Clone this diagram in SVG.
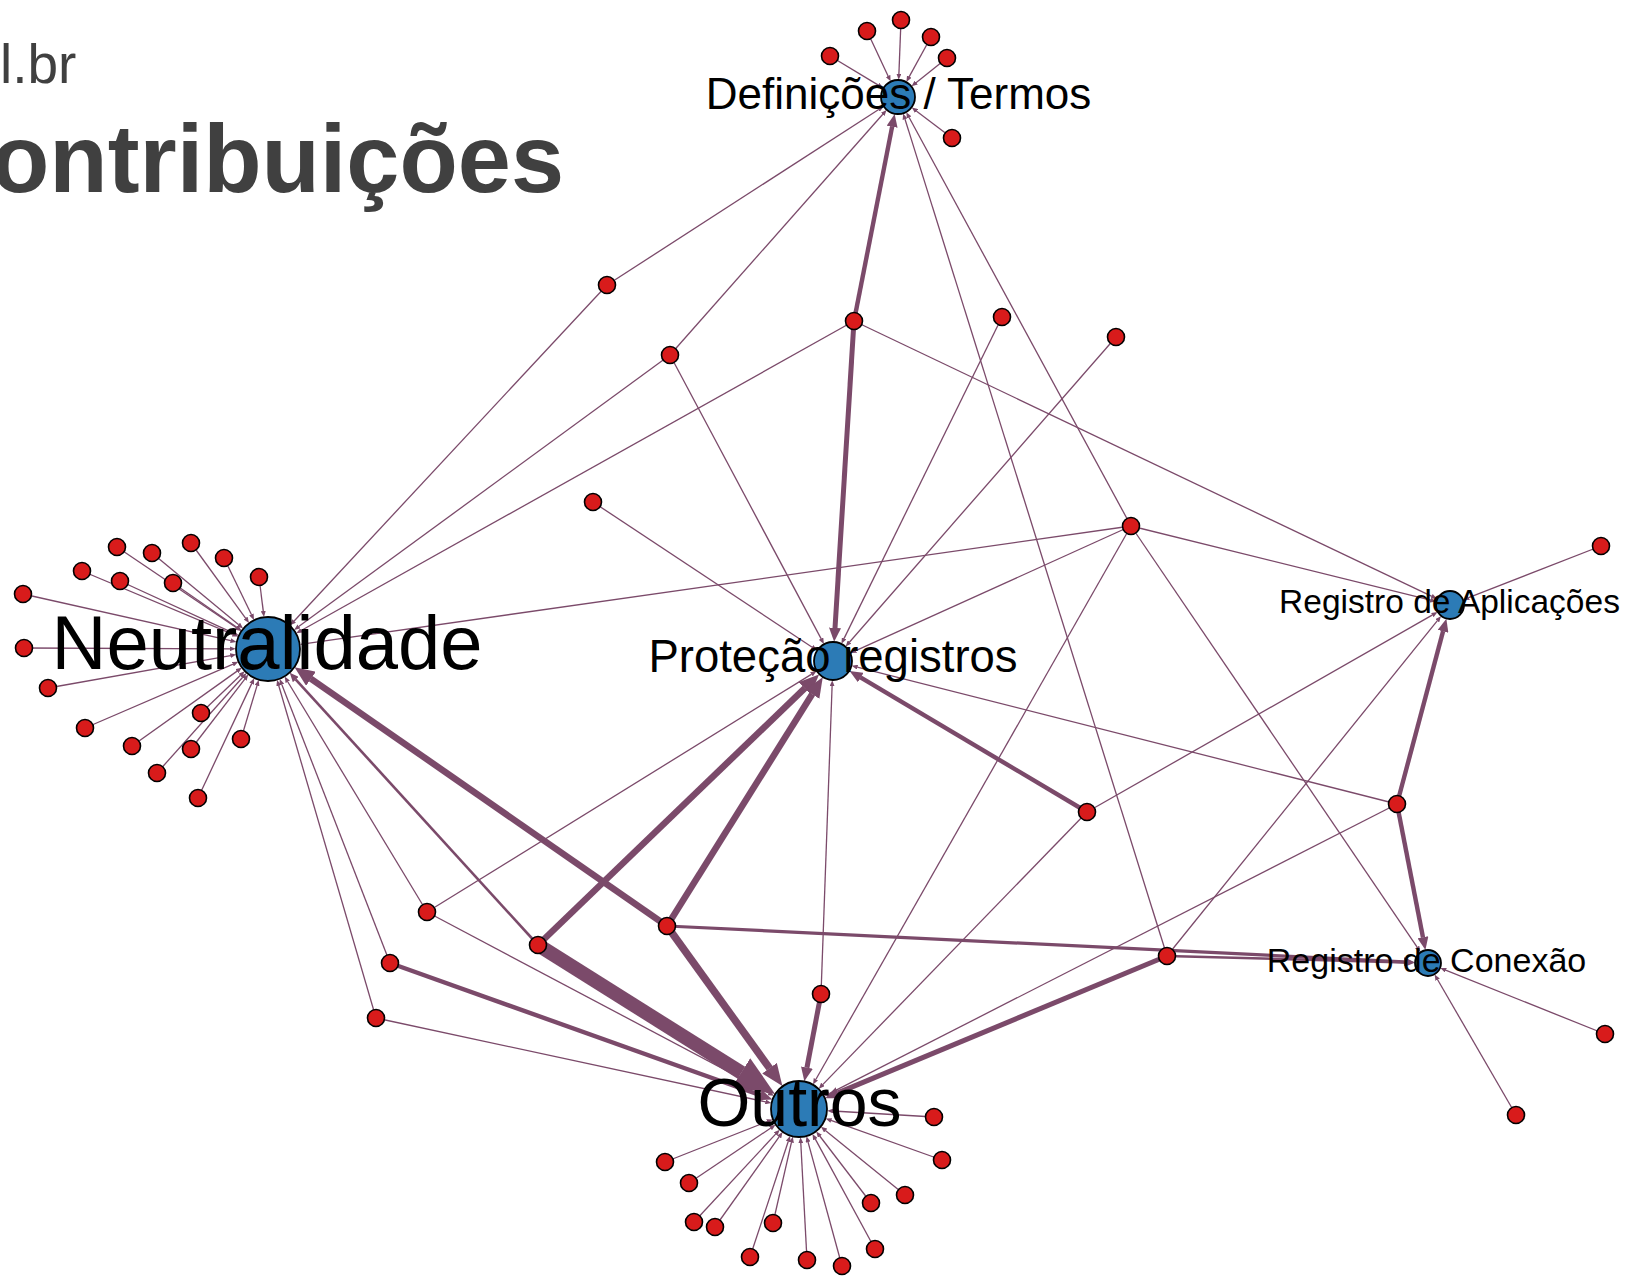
<svg xmlns="http://www.w3.org/2000/svg" width="1626" height="1276" viewBox="0 0 1626 1276">
<style>
.bg{fill:#ffffff}
.ttl{font-family:"Liberation Sans",Arial,sans-serif;fill:#404040}
.lbl{font-family:"Liberation Sans",Arial,sans-serif;fill:#000000;text-anchor:middle}
.rn{fill:#d81b1b;stroke:#000000;stroke-width:1.6}
.hb{fill:#2c7bb6;stroke:#000000;stroke-width:1.8}
#edges path{fill:none;stroke:#7b4a6a;stroke-linecap:butt}
.e1{stroke-width:1.3;marker-end:url(#m1)}
.e2{stroke-width:2.6;marker-end:url(#m2)}
.e3{stroke-width:3.2;marker-end:url(#m3)}
.e4{stroke-width:4.4;marker-end:url(#m4)}
.e5{stroke-width:5;marker-end:url(#m5)}
.e6{stroke-width:6.5;marker-end:url(#m6)}
.e7{stroke-width:7.5;marker-end:url(#m7)}
.e13{stroke-width:14;marker-end:url(#m13)}
.ah{fill:#7b4a6a}
</style>
<defs>
<marker id="m1" markerUnits="userSpaceOnUse" viewBox="0 0 6 5" markerWidth="6" markerHeight="5" refX="0.3" refY="2.5" orient="auto"><path class="ah" d="M0,0L6,2.5L0,5z"/></marker>
<marker id="m2" markerUnits="userSpaceOnUse" viewBox="0 0 9 8" markerWidth="9" markerHeight="8" refX="0.3" refY="4" orient="auto"><path class="ah" d="M0,0L9,4L0,8z"/></marker>
<marker id="m3" markerUnits="userSpaceOnUse" viewBox="0 0 11 9" markerWidth="11" markerHeight="9" refX="0.3" refY="4.5" orient="auto"><path class="ah" d="M0,0L11,4.5L0,9z"/></marker>
<marker id="m4" markerUnits="userSpaceOnUse" viewBox="0 0 13 11" markerWidth="13" markerHeight="11" refX="0.3" refY="5.5" orient="auto"><path class="ah" d="M0,0L13,5.5L0,11z"/></marker>
<marker id="m5" markerUnits="userSpaceOnUse" viewBox="0 0 14 12" markerWidth="14" markerHeight="12" refX="0.3" refY="6" orient="auto"><path class="ah" d="M0,0L14,6L0,12z"/></marker>
<marker id="m6" markerUnits="userSpaceOnUse" viewBox="0 0 20 17" markerWidth="20" markerHeight="17" refX="0.3" refY="8.5" orient="auto"><path class="ah" d="M0,0L20,8.5L0,17z"/></marker>
<marker id="m7" markerUnits="userSpaceOnUse" viewBox="0 0 22 18" markerWidth="22" markerHeight="18" refX="0.3" refY="9" orient="auto"><path class="ah" d="M0,0L22,9L0,18z"/></marker>
<marker id="m13" markerUnits="userSpaceOnUse" viewBox="0 0 40 34" markerWidth="40" markerHeight="34" refX="0.3" refY="17" orient="auto"><path class="ah" d="M0,0L40,17L0,34z"/></marker>
</defs>
<rect class="bg" x="0" y="0" width="1626" height="1276"/>
<g id="title">
<text class="ttl" x="0" y="83" font-size="55">l.br</text>
<text class="ttl" x="-9" y="192" font-size="95.5" font-weight="bold">ontribuições</text>
</g>
<g id="edges">
<!-- to Definições / Termos -->
<path class="e1" d="M830,56L878.3,85.1"/>
<path class="e1" d="M867,31L888.2,76.2"/>
<path class="e1" d="M901,20L898.9,74"/>
<path class="e1" d="M931,37L909.1,76.9"/>
<path class="e1" d="M947,58L916,82.7"/>
<path class="e1" d="M952,138L916.3,110.9"/>
<path class="e1" d="M607,285L878.7,109.5"/>
<path class="e1" d="M670,355L882.8,114.2"/>
<path class="e4" d="M854,321L892.2,126.4"/>
<path class="e1" d="M1131,526L909,117.2"/>
<path class="e1" d="M1167,956L904.9,118.9"/>
<!-- to Neutralidade -->
<path class="e1" d="M117,547L236.5,627.7"/>
<path class="e1" d="M152,553L238.7,624.8"/>
<path class="e1" d="M191,543L245.7,618.3"/>
<path class="e1" d="M224,558L251.5,614.8"/>
<path class="e1" d="M259,577L263.3,611.3"/>
<path class="e1" d="M82,571L233,634.3"/>
<path class="e1" d="M120,581L233.5,633.1"/>
<path class="e1" d="M173,583L236.8,627.3"/>
<path class="e1" d="M23,594L230.9,640.7"/>
<path class="e1" d="M24,648L230,648.8"/>
<path class="e1" d="M48,688L230.6,655.6"/>
<path class="e1" d="M85,728L233.1,664.1"/>
<path class="e1" d="M132,746L237.1,671.1"/>
<path class="e1" d="M157,773L242.7,677.3"/>
<path class="e1" d="M191,749L244.8,679.1"/>
<path class="e1" d="M201,713L240.5,675.2"/>
<path class="e1" d="M241,739L257.1,685.4"/>
<path class="e1" d="M198,798L251.8,683.4"/>
<path class="e1" d="M607,285L293.9,621.2"/>
<path class="e1" d="M670,355L298.7,626.6"/>
<path class="e1" d="M854,321L301.2,630.5"/>
<path class="e1" d="M1131,526L305.6,643.6"/>
<path class="e1" d="M427,912L287.6,681.5"/>
<path class="e2" d="M538,945L295.6,679.3"/>
<path class="e6" d="M667,926L310.7,678.6"/>
<path class="e1" d="M390,963L281.8,684.4"/>
<path class="e1" d="M376,1018L278.7,685.5"/>
<!-- to Proteção registros -->
<path class="e1" d="M670,355L821.2,638.9"/>
<path class="e5" d="M854,321L835,628.1"/>
<path class="e1" d="M1002,317L844,638.6"/>
<path class="e1" d="M1116,337L849.4,642.2"/>
<path class="e1" d="M593,502L812.2,647.2"/>
<path class="e1" d="M1131,526L855.8,650.7"/>
<path class="e4" d="M1087,812L860.5,677.4"/>
<path class="e1" d="M1397,804L857.2,667.1"/>
<path class="e1" d="M427,912L811.7,674.1"/>
<path class="e6" d="M538,945L804.9,688.1"/>
<path class="e6" d="M667,926L812.3,694"/>
<path class="e1" d="M821,994L832.1,686"/>
<!-- to Registro de Aplicações -->
<path class="e1" d="M854,321L1431.9,596.4"/>
<path class="e1" d="M1131,526L1430.6,600.2"/>
<path class="e1" d="M1601,546L1468.6,597.7"/>
<path class="e1" d="M1087,812L1432.6,614.9"/>
<path class="e4" d="M1397,804L1443.1,631.1"/>
<path class="e1" d="M1167,956L1437.4,620.6"/>
<!-- to Registro de Conexão -->
<path class="e1" d="M1131,526L1417.3,947.3"/>
<path class="e4" d="M1397,804L1423,937.5"/>
<path class="e3" d="M667,926L1404,961.8"/>
<path class="e2" d="M1167,956L1406,962.4"/>
<path class="e1" d="M1605,1034L1445.6,970.1"/>
<path class="e1" d="M1516,1115L1437.5,979.5"/>
<!-- to Outros -->
<path class="e1" d="M934,1117L832.9,1111"/>
<path class="e1" d="M942,1160L831,1120.4"/>
<path class="e1" d="M905,1195L825.4,1130.4"/>
<path class="e1" d="M871,1203L819.7,1136"/>
<path class="e1" d="M875,1249L815.2,1138.9"/>
<path class="e1" d="M842,1266L808,1141.8"/>
<path class="e1" d="M807,1260L800.8,1143"/>
<path class="e1" d="M773,1223L791.5,1142.2"/>
<path class="e1" d="M750,1257L788.3,1141.3"/>
<path class="e1" d="M715,1227L779.3,1136.7"/>
<path class="e1" d="M694,1222L775.8,1133.9"/>
<path class="e1" d="M689,1183L770.8,1128"/>
<path class="e1" d="M665,1162L767.4,1121.5"/>
<path class="e1" d="M427,912L768.9,1093.1"/>
<path class="e13" d="M538,945L741.4,1072.8"/>
<path class="e7" d="M667,926L769.7,1068.4"/>
<path class="e4" d="M390,963L760.4,1095.2"/>
<path class="e1" d="M376,1018L765.7,1101.9"/>
<path class="e5" d="M821,994L806.9,1067.8"/>
<path class="e1" d="M1131,526L815.8,1079.5"/>
<path class="e5" d="M1167,956L837.8,1092.9"/>
<path class="e1" d="M1397,804L829.3,1093.6"/>
<path class="e1" d="M1087,812L822.7,1084.6"/>
</g>
<g id="red-nodes">
<g id="d1"><circle class="rn" cx="830" cy="56" r="8.5"/></g>
<g id="d2"><circle class="rn" cx="867" cy="31" r="8.5"/></g>
<g id="d3"><circle class="rn" cx="901" cy="20" r="8.5"/></g>
<g id="d4"><circle class="rn" cx="931" cy="37" r="8.5"/></g>
<g id="d5"><circle class="rn" cx="947" cy="58" r="8.5"/></g>
<g id="d6"><circle class="rn" cx="952" cy="138" r="8.5"/></g>
<g id="n1"><circle class="rn" cx="117" cy="547" r="8.5"/></g>
<g id="n2"><circle class="rn" cx="152" cy="553" r="8.5"/></g>
<g id="n3"><circle class="rn" cx="191" cy="543" r="8.5"/></g>
<g id="n4"><circle class="rn" cx="224" cy="558" r="8.5"/></g>
<g id="n5"><circle class="rn" cx="259" cy="577" r="8.5"/></g>
<g id="n6"><circle class="rn" cx="82" cy="571" r="8.5"/></g>
<g id="n7"><circle class="rn" cx="120" cy="581" r="8.5"/></g>
<g id="n8"><circle class="rn" cx="173" cy="583" r="8.5"/></g>
<g id="n9"><circle class="rn" cx="23" cy="594" r="8.5"/></g>
<g id="n10"><circle class="rn" cx="24" cy="648" r="8.5"/></g>
<g id="n11"><circle class="rn" cx="48" cy="688" r="8.5"/></g>
<g id="n12"><circle class="rn" cx="85" cy="728" r="8.5"/></g>
<g id="n13"><circle class="rn" cx="132" cy="746" r="8.5"/></g>
<g id="n14"><circle class="rn" cx="157" cy="773" r="8.5"/></g>
<g id="n15"><circle class="rn" cx="191" cy="749" r="8.5"/></g>
<g id="n16"><circle class="rn" cx="201" cy="713" r="8.5"/></g>
<g id="n17"><circle class="rn" cx="241" cy="739" r="8.5"/></g>
<g id="n18"><circle class="rn" cx="198" cy="798" r="8.5"/></g>
<g id="o1"><circle class="rn" cx="934" cy="1117" r="8.5"/></g>
<g id="o2"><circle class="rn" cx="942" cy="1160" r="8.5"/></g>
<g id="o3"><circle class="rn" cx="905" cy="1195" r="8.5"/></g>
<g id="o4"><circle class="rn" cx="871" cy="1203" r="8.5"/></g>
<g id="o5"><circle class="rn" cx="875" cy="1249" r="8.5"/></g>
<g id="o6"><circle class="rn" cx="842" cy="1266" r="8.5"/></g>
<g id="o7"><circle class="rn" cx="807" cy="1260" r="8.5"/></g>
<g id="o8"><circle class="rn" cx="773" cy="1223" r="8.5"/></g>
<g id="o9"><circle class="rn" cx="750" cy="1257" r="8.5"/></g>
<g id="o10"><circle class="rn" cx="715" cy="1227" r="8.5"/></g>
<g id="o11"><circle class="rn" cx="694" cy="1222" r="8.5"/></g>
<g id="o12"><circle class="rn" cx="689" cy="1183" r="8.5"/></g>
<g id="o13"><circle class="rn" cx="665" cy="1162" r="8.5"/></g>
<g id="rA"><circle class="rn" cx="607" cy="285" r="8.5"/></g>
<g id="rB"><circle class="rn" cx="670" cy="355" r="8.5"/></g>
<g id="rC"><circle class="rn" cx="854" cy="321" r="8.5"/></g>
<g id="rD"><circle class="rn" cx="1002" cy="317" r="8.5"/></g>
<g id="rE"><circle class="rn" cx="1116" cy="337" r="8.5"/></g>
<g id="rF"><circle class="rn" cx="593" cy="502" r="8.5"/></g>
<g id="rG"><circle class="rn" cx="1131" cy="526" r="8.5"/></g>
<g id="rH"><circle class="rn" cx="1601" cy="546" r="8.5"/></g>
<g id="rI"><circle class="rn" cx="1087" cy="812" r="8.5"/></g>
<g id="rJ"><circle class="rn" cx="1397" cy="804" r="8.5"/></g>
<g id="rK"><circle class="rn" cx="427" cy="912" r="8.5"/></g>
<g id="rL"><circle class="rn" cx="538" cy="945" r="8.5"/></g>
<g id="rM"><circle class="rn" cx="667" cy="926" r="8.5"/></g>
<g id="rN"><circle class="rn" cx="390" cy="963" r="8.5"/></g>
<g id="rO"><circle class="rn" cx="376" cy="1018" r="8.5"/></g>
<g id="rP"><circle class="rn" cx="821" cy="994" r="8.5"/></g>
<g id="rQ"><circle class="rn" cx="1167" cy="956" r="8.5"/></g>
<g id="rR"><circle class="rn" cx="1605" cy="1034" r="8.5"/></g>
<g id="rS"><circle class="rn" cx="1516" cy="1115" r="8.5"/></g>
</g>
<g id="hub-definicoes"><circle class="hb" cx="898" cy="97" r="17"/><text class="lbl" x="898.5" y="109" font-size="44">Definições / Termos</text></g>
<g id="hub-neutralidade"><circle class="hb" cx="268" cy="649" r="32"/><text class="lbl" x="267" y="669" font-size="76">Neutralidade</text></g>
<g id="hub-protecao"><circle class="hb" cx="833" cy="661" r="19"/><text class="lbl" x="833" y="672" font-size="45.5">Proteção registros</text></g>
<g id="hub-outros"><circle class="hb" cx="799" cy="1109" r="28"/><text class="lbl" x="799.5" y="1126" font-size="68">Outros</text></g>
<g id="hub-aplicacoes"><circle class="hb" cx="1450" cy="605" r="14"/><text class="lbl" x="1449.5" y="613" font-size="33.5">Registro de Aplicações</text></g>
<g id="hub-conexao"><circle class="hb" cx="1428" cy="963" r="13"/><text class="lbl" x="1426.5" y="972" font-size="34">Registro de Conexão</text></g>
</svg>
